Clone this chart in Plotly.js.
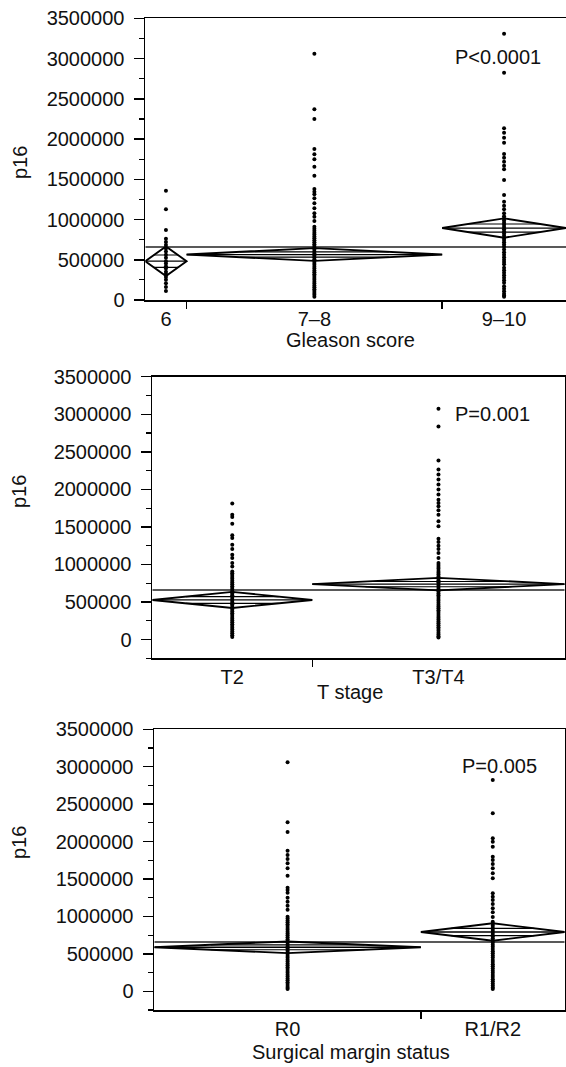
<!DOCTYPE html>
<html>
<head>
<meta charset="utf-8">
<script src="https://cdn.plot.ly/plotly-3.0.1.min.js"></script>
<style>
  html, body { margin: 0; padding: 0; background: #fff; }
  #chart { width: 566px; height: 1067px; }
</style>
</head>
<body>
<div id="chart"></div>
<script>
// ---- Gleason score ----
const gleasonLabels = ['6', '7–8', '9–10'];
const gleasonN = [21, 130, 63];
const gleasonMean = [482000, 565000, 894000];
const gleasonCiLow = [298000, 486000, 774000];
const gleasonCiHigh = [666000, 644000, 1014000];
const gleasonOverlapLow = [405000, 532000, 844000];
const gleasonOverlapHigh = [559000, 598000, 944000];
const gleasonP16 = [
  [1358000, 1127000, 870000, 762000, 722000, 684000, 641000, 603000, 561000, 524000, 483000,
   452000, 418000, 392000, 351000, 322000, 287000, 252000, 208000, 163000, 112000],
  [3060000, 2370000, 2250000, 1876000, 1810000, 1750000, 1656000, 1544000, 1379000, 1345000,
   1313000, 1263000, 1201000, 1139000, 1077000, 1035000, 981000,
   911000, 886000, 861000, 837000, 813000, 789000, 766000, 741000, 717000, 694000, 671000,
   647000, 624000, 601000, 577000, 553000, 531000, 507000, 484000, 459000, 437000, 414000,
   391000, 367000, 344000, 321000, 297000, 274000, 251000, 227000, 204000, 181000, 158000,
   134000, 111000, 87000, 64000, 41000],
  [3308000, 2824000, 2133000, 2079000, 2017000, 1954000, 1814000, 1768000, 1718000, 1668000,
   1624000, 1491000, 1304000, 1221000, 1171000, 1127000, 1077000,
   1041000, 1014000, 988000, 961000, 934000, 906000, 879000, 851000, 826000, 797000, 771000,
   744000, 716000, 689000, 661000, 628000, 592000, 561000, 532000, 499000, 471000, 443000,
   402000, 371000, 339000, 308000, 277000, 246000, 214000, 171000, 139000, 108000, 79000,
   56000, 39000]
];

// ---- T stage ----
const stageLabels = ['T2', 'T3/T4'];
const stageN = [83, 131];
const stageMean = [527000, 738000];
const stageCiLow = [420000, 655000];
const stageCiHigh = [634000, 821000];
const stageOverlapLow = [482000, 703000];
const stageOverlapHigh = [572000, 773000];
const stageP16 = [
  [1810000, 1663000, 1633000, 1543000, 1387000, 1352000, 1263000, 1206000, 1130000, 1086000,
   1019000, 974000,
   907000, 881000, 858000, 833000, 808000, 784000, 759000, 735000, 711000, 687000, 662000,
   638000, 614000, 590000, 566000, 541000, 517000, 494000, 469000, 446000, 421000, 397000,
   373000, 349000, 326000, 301000, 277000, 253000, 229000, 204000, 181000, 156000, 132000,
   107000, 83000, 58000, 33000],
  [3073000, 2837000, 2384000, 2264000, 2197000, 2130000, 2063000, 1997000, 1930000, 1863000,
   1819000, 1774000, 1721000, 1663000, 1574000, 1507000, 1343000, 1299000, 1250000, 1206000,
   1152000, 1086000, 1019000,
   991000, 966000, 941000, 914000, 889000, 866000, 839000, 816000, 791000, 764000, 741000,
   716000, 689000, 666000, 641000, 614000, 591000, 566000, 539000, 516000, 491000, 464000,
   441000, 416000, 389000, 366000, 341000, 314000, 291000, 266000, 239000, 216000, 191000,
   164000, 141000, 116000, 89000, 66000, 45000, 28000]
];

// ---- Surgical margin status ----
const marginLabels = ['R0', 'R1/R2'];
const marginN = [139, 75];
const marginMean = [588000, 792000];
const marginCiLow = [510000, 676000];
const marginCiHigh = [666000, 908000];
const marginOverlapLow = [555000, 743000];
const marginOverlapHigh = [621000, 841000];
const marginP16 = [
  [3059000, 2258000, 2128000, 1878000, 1821000, 1767000, 1710000, 1643000, 1544000, 1384000,
   1353000, 1317000, 1250000, 1197000, 1143000, 1090000,
   997000, 972000, 946000, 921000, 897000, 871000, 846000, 822000, 796000, 771000, 747000,
   722000, 696000, 672000, 647000, 621000, 597000, 572000, 546000, 522000, 497000, 471000,
   447000, 422000, 397000, 372000, 347000, 322000, 297000, 272000, 247000, 222000, 197000,
   172000, 147000, 122000, 97000, 72000, 47000, 31000],
  [2823000, 2378000, 2044000, 1999000, 1932000, 1798000, 1754000, 1700000, 1643000, 1576000,
   1509000, 1309000, 1264000, 1220000, 1166000, 1109000, 1055000, 993000, 930000,
   902000, 874000, 847000, 819000, 791000, 764000, 736000, 708000, 681000, 652000, 621000,
   594000, 566000, 536000, 507000, 479000, 452000, 419000, 391000, 362000, 333000, 306000,
   276000, 248000, 219000, 191000, 162000, 133000, 104000, 78000, 52000, 31000]
];

const grandMean = 658000;

const traces = [];
const line = (xa, ya, xs, ys, width, color) => ({
  type: 'scatter', mode: 'lines', x: xs, y: ys, xaxis: xa, yaxis: ya,
  line: { color: color || '#000', width: width }, hoverinfo: 'skip', showlegend: false
});

// Means diamonds, overlap marks and raw points for one panel
function addPanel(k, labels, n, mean, lo, hi, ovLo, ovHi, pts) {
  const xa = k === 1 ? 'x' : 'x' + k;
  const ya = k === 1 ? 'y' : 'y' + k;
  const total = n.reduce((a, b) => a + b, 0);
  traces.push(line(xa, ya, [0, total], [grandMean, grandMean], 1.5, '#222'));
  let start = 0;
  const centers = [], dividers = [];
  labels.forEach((lab, i) => {
    const x0 = start, x1 = start + n[i], xc = (x0 + x1) / 2;
    centers.push(xc);
    if (i < labels.length - 1) dividers.push(x1);
    traces.push(line(xa, ya, [x0, xc, x1, xc, x0], [mean[i], hi[i], mean[i], lo[i], mean[i]], 1.9));
    traces.push(line(xa, ya, [x0, x1], [mean[i], mean[i]], 1.3));
    [ovLo[i], ovHi[i]].forEach(v => {
      const half = v > mean[i] ? hi[i] - mean[i] : mean[i] - lo[i];
      const dx = (Math.abs(v - mean[i]) / half) * n[i] / 2;
      traces.push(line(xa, ya, [x0 + dx, x1 - dx], [v, v], 1.2));
    });
    traces.push({
      type: 'scatter', mode: 'markers', x: pts[i].map(() => xc), y: pts[i],
      xaxis: xa, yaxis: ya, marker: { size: 4, color: '#000' },
      hoverinfo: 'y', showlegend: false
    });
    start = x1;
  });
  // empty trace so the divider-tick axis is drawn
  traces.push({ type: 'scatter', x: [], y: [], xaxis: 'x' + (k + 3), yaxis: ya, showlegend: false });
  return { total, centers, dividers };
}

const p1 = addPanel(1, gleasonLabels, gleasonN, gleasonMean, gleasonCiLow, gleasonCiHigh, gleasonOverlapLow, gleasonOverlapHigh, gleasonP16);
const p2 = addPanel(2, stageLabels, stageN, stageMean, stageCiLow, stageCiHigh, stageOverlapLow, stageOverlapHigh, stageP16);
const p3 = addPanel(3, marginLabels, marginN, marginMean, marginCiLow, marginCiHigh, marginOverlapLow, marginOverlapHigh, marginP16);

const font = { family: 'Liberation Sans, Arial, Helvetica, sans-serif', size: 20, color: '#111' };

function xAxis(p, labels, domain, anchor) {
  return {
    domain: domain, anchor: anchor, range: [0, p.total],
    tickmode: 'array', tickvals: p.centers, ticktext: labels, ticks: '',
    tickfont: font, showgrid: false, zeroline: false,
    showline: true, linecolor: '#000', linewidth: 1.8, mirror: true
  };
}
function divAxis(p, base, anchor) {
  return {
    overlaying: base, anchor: anchor, range: [0, p.total],
    tickmode: 'array', tickvals: p.dividers, ticks: 'outside', ticklen: 8,
    tickwidth: 1.5, tickcolor: '#000', showticklabels: false,
    showgrid: false, zeroline: false, showline: false
  };
}
function yAxis(domain, anchor, range, mirror) {
  return {
    domain: domain, anchor: anchor, range: range,
    tick0: 0, dtick: 500000, tickformat: 'd',
    ticks: 'outside', ticklen: 10, tickwidth: 1.5, tickcolor: '#000',
    ticklabelstandoff: 5,
    minor: { dtick: 250000, ticks: 'outside', ticklen: 5, tickwidth: 1.2, tickcolor: '#000', showgrid: false },
    tickfont: font, showgrid: false, zeroline: false,
    showline: true, linecolor: '#000', linewidth: 1.8, mirror: mirror
  };
}

const X1 = [145.3 / 566, 1], Y1 = [1 - 300 / 1067, 1 - 18.3 / 1067];
const X2 = [152.3 / 566, 564.7 / 566], Y2 = [1 - 658.3 / 1067, 1 - 376.7 / 1067];
const X3 = [154.3 / 566, 564.7 / 566], Y3 = [1 - 1010 / 1067, 1 - 729.3 / 1067];

const ann = (text, x, y, extra) => Object.assign({
  text: text, x: x, y: y, xref: 'paper', yref: 'paper', showarrow: false,
  xanchor: 'center', yanchor: 'middle', font: font
}, extra || {});

const layout = {
  width: 566, height: 1067,
  margin: { l: 0, r: 0, t: 0, b: 0 },
  paper_bgcolor: '#fff', plot_bgcolor: '#fff',
  font: font, showlegend: false,
  xaxis: xAxis(p1, gleasonLabels, X1, 'y'),
  xaxis2: xAxis(p2, stageLabels, X2, 'y2'),
  xaxis3: xAxis(p3, marginLabels, X3, 'y3'),
  xaxis4: divAxis(p1, 'x', 'y'),
  xaxis5: divAxis(p2, 'x2', 'y2'),
  xaxis6: divAxis(p3, 'x3', 'y3'),
  yaxis: yAxis(Y1, 'x', [0, 3500000], false),
  yaxis2: yAxis(Y2, 'x2', [-250000, 3500000], true),
  yaxis3: yAxis(Y3, 'x3', [-250000, 3500000], true),
  annotations: [
    ann('P&lt;0.0001', 0.838, 3015000, { xref: 'x domain', yref: 'y' }),
    ann('P=0.001', 0.826, 3010000, { xref: 'x2 domain', yref: 'y2' }),
    ann('P=0.005', 0.842, 3010000, { xref: 'x3 domain', yref: 'y3' }),
    ann('p16', 20 / 566, 1 - 163 / 1067, { textangle: -90 }),
    ann('p16', 19 / 566, 1 - 492 / 1067, { textangle: -90 }),
    ann('p16', 19 / 566, 1 - 843 / 1067, { textangle: -90 }),
    ann('Gleason score', 350 / 566, 1 - 340 / 1067),
    ann('T stage', 350 / 566, 1 - 692 / 1067),
    ann('Surgical margin status', 351 / 566, 1 - 1052 / 1067)
  ]
};

Plotly.newPlot('chart', traces, layout, { displayModeBar: false, staticPlot: true });
</script>
</body>
</html>
